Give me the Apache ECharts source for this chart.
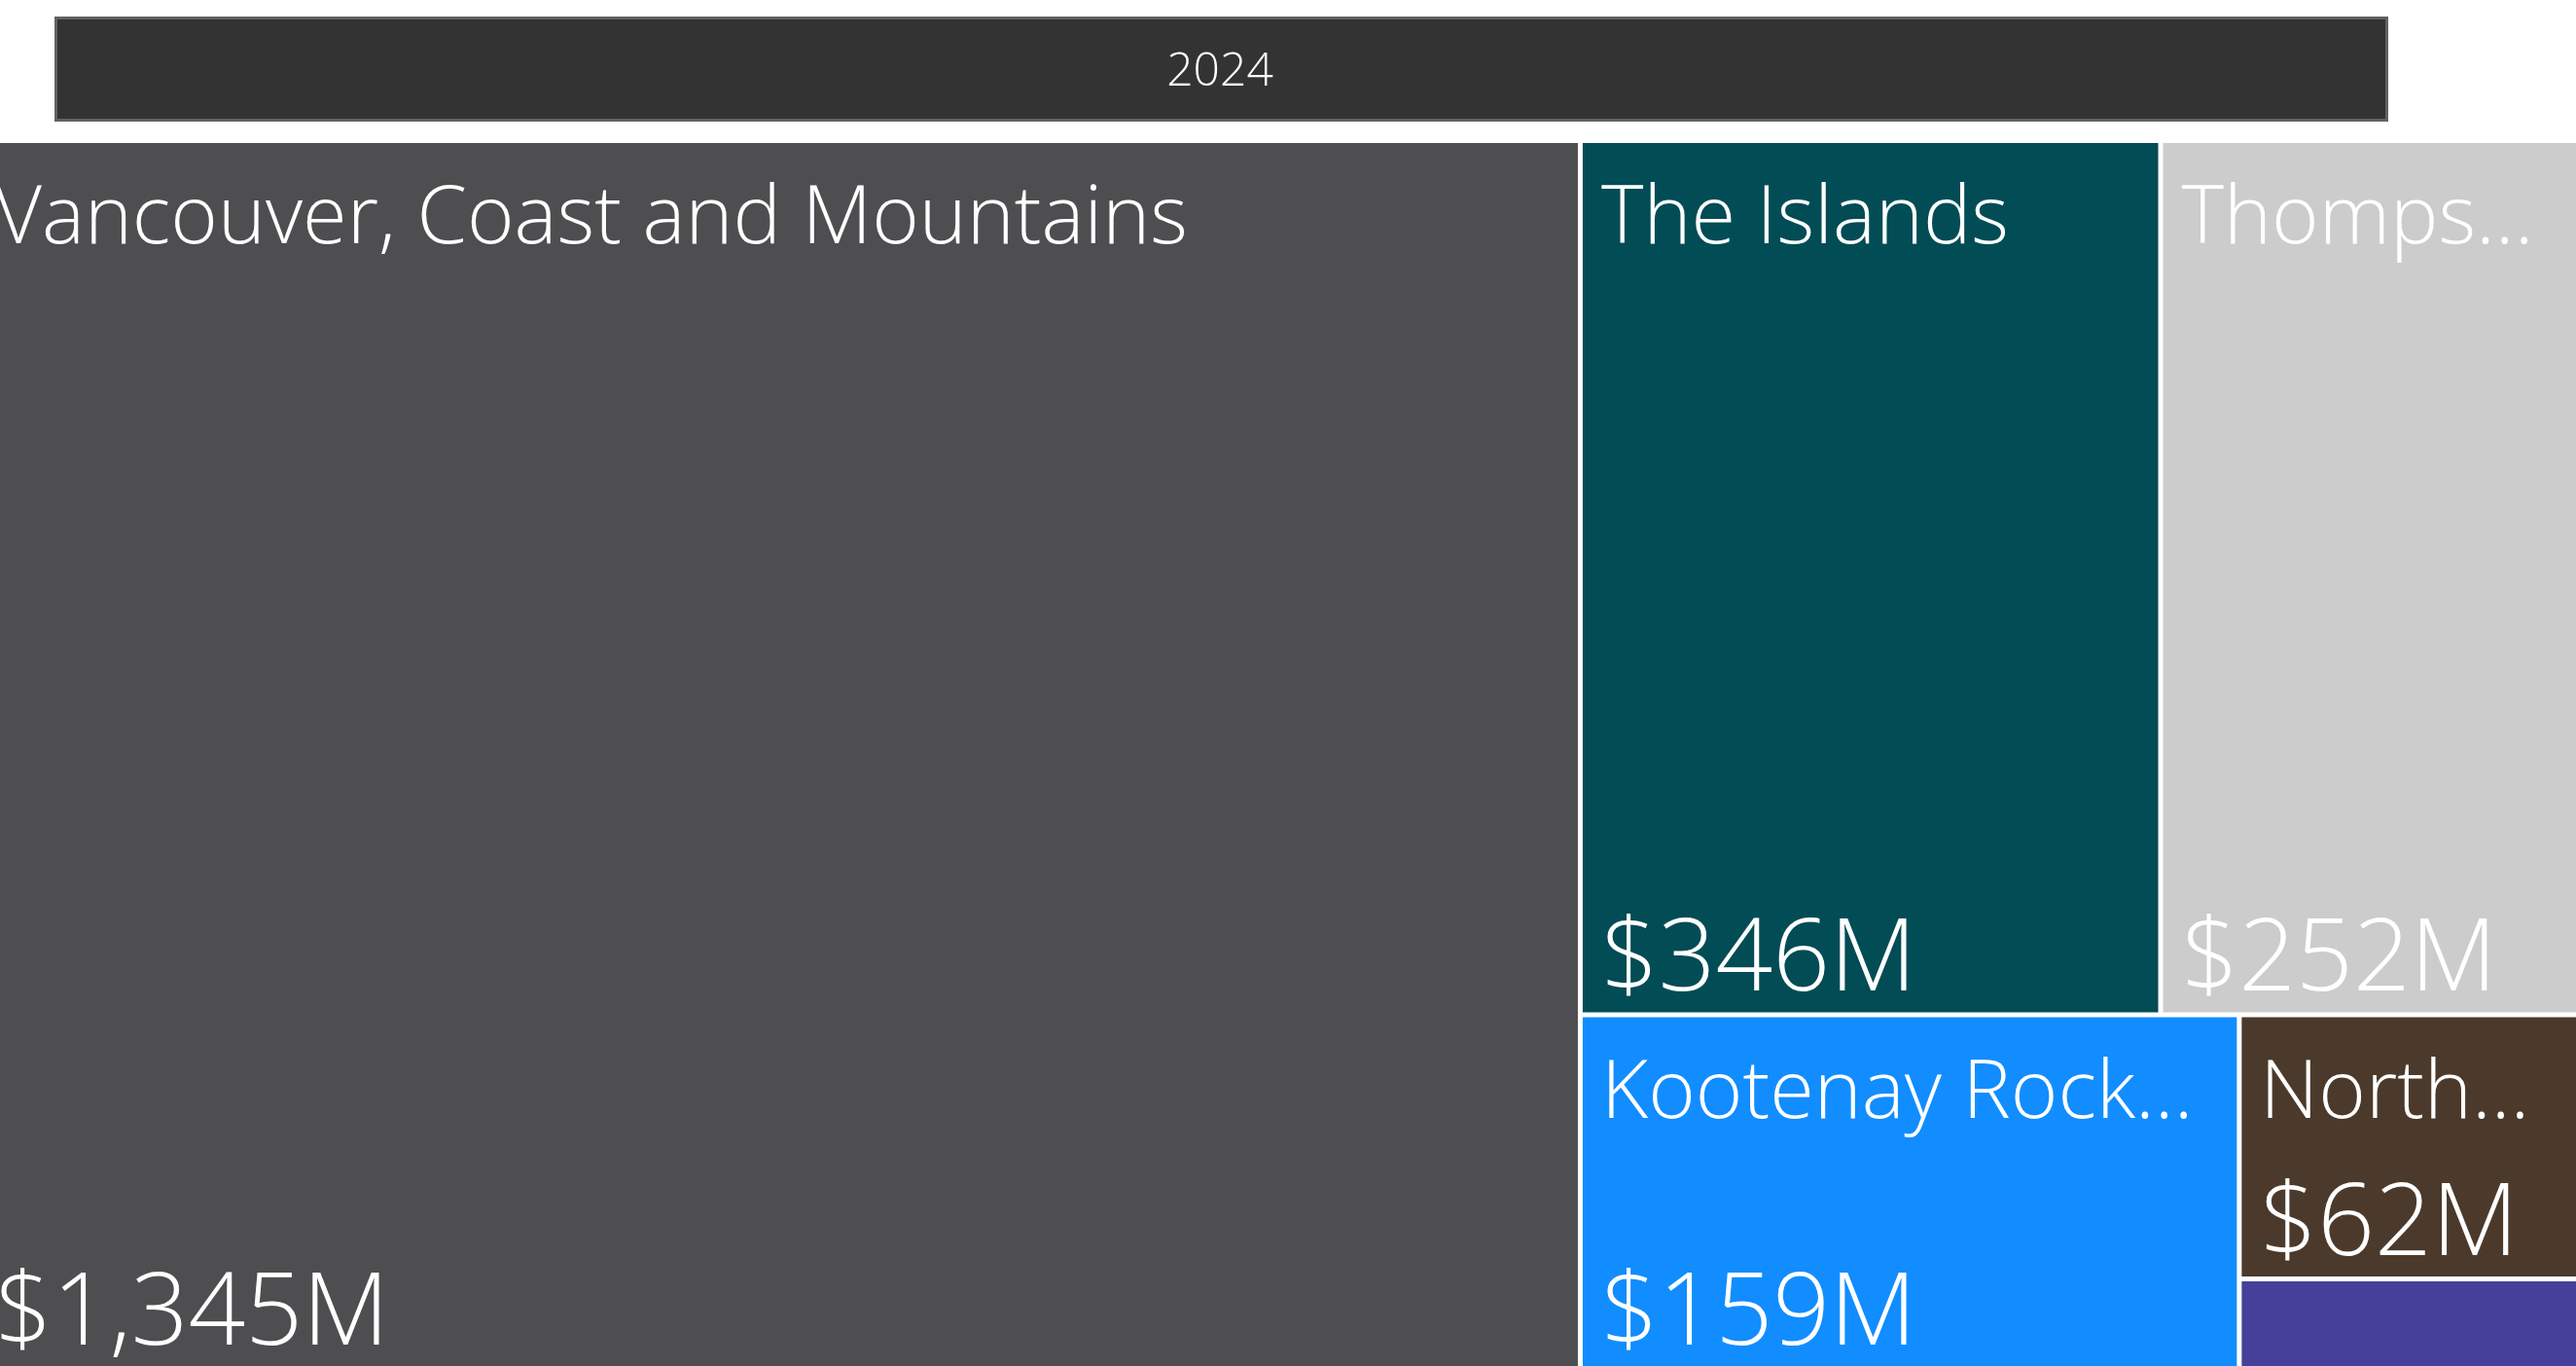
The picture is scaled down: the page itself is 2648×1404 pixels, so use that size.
<!DOCTYPE html>
<html>
<head>
<meta charset="utf-8">
<script src="https://cdn.jsdelivr.net/npm/echarts@6/dist/echarts.min.js"></script>
<style>
  html, body { margin: 0; padding: 0; background: #ffffff; overflow: hidden; }
  #chart { width: 2648px; height: 1404px; }
</style>
</head>
<body>
<div id="chart"></div>
<script>
// ---- data ----
const yearLabel = '2024';
const regions = [
  'Vancouver, Coast and Mountains',
  'The Islands',
  'Thompson Okanagan',
  'Kootenay Rockies',
  'Northern British Columbia',
  'Cariboo Chilcotin Coast'
];
const spendMillions = [1345, 346, 252, 159, 62, 21];
const regionColors = ['#4E4E50', '#024C56', '#CCCCCC', '#118DFF', '#4B3A2B', '#45419A'];
const hideLabel = [false, false, false, false, false, true];

const FONT = '"Segoe UI", "Open Sans", Lato, sans-serif';

function fmtMoney(v) {
  return '$' + v.toLocaleString('en-US') + 'M';
}

const nameData = regions.map((r, i) => ({
  name: r,
  value: spendMillions[i],
  itemStyle: { color: regionColors[i] },
  label: hideLabel[i] ? { show: false } : undefined
}));
const valueData = regions.map((r, i) => ({
  name: r,
  value: spendMillions[i],
  itemStyle: { color: 'rgba(0,0,0,0)' },
  label: hideLabel[i] ? { show: false } : undefined
}));

const common = {
  type: 'treemap',
  left: -24,
  top: 147,
  width: 2677,
  height: 1257,
  roam: false,
  nodeClick: false,
  breadcrumb: { show: false },
  squareRatio: 1.35,
  animation: false
};

const chart = echarts.init(document.getElementById('chart'), null, { renderer: 'canvas' });
chart.setOption({
  animation: false,
  graphic: [
    {
      type: 'rect',
      left: 56, top: 17,
      shape: { width: 2396, height: 105 },
      style: { fill: '#333333', stroke: '#626262', lineWidth: 3 },
      z: 10
    },
    {
      type: 'text',
      x: 1254, y: 74,
      style: {
        text: yearLabel,
        fill: '#ffffff',
        font: '300 48px ' + FONT,
        align: 'center',
        verticalAlign: 'middle'
      },
      z: 11
    }
  ],
  series: [
    Object.assign({}, common, {
      levels: [
        { itemStyle: { borderWidth: 0, gapWidth: 5, borderColor: '#ffffff' } },
        { itemStyle: { borderWidth: 0, gapWidth: 0 } }
      ],
      label: {
        show: true,
        position: 'insideTopLeft',
        distance: 0,
        padding: [38, 40, 0, 19],
        color: '#ffffff',
        fontFamily: FONT,
        fontWeight: 300,
        fontSize: 83,
        overflow: 'truncate',
        ellipsis: '...',
        formatter: '{b}'
      },
      upperLabel: { show: false },
      data: nameData
    }),
    Object.assign({}, common, {
      silent: true,
      z: 3,
      levels: [
        { itemStyle: { borderWidth: 0, gapWidth: 5, borderColor: 'rgba(0,0,0,0)' } },
        { itemStyle: { borderWidth: 0, gapWidth: 0, borderColor: 'rgba(0,0,0,0)' } }
      ],
      label: {
        show: true,
        position: 'insideBottomLeft',
        distance: 0,
        padding: [0, 40, 0, 19],
        color: '#ffffff',
        fontFamily: FONT,
        fontWeight: 300,
        fontSize: 103,
        overflow: 'truncate',
        ellipsis: '...',
        formatter: p => fmtMoney(p.value)
      },
      upperLabel: { show: false },
      data: valueData
    })
  ]
});
</script>
</body>
</html>
